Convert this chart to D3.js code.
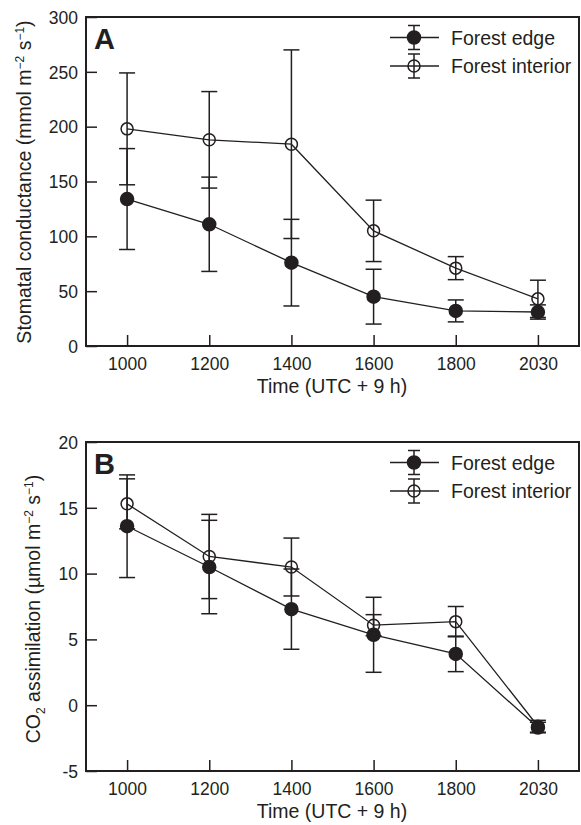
<!DOCTYPE html>
<html>
<head>
<meta charset="utf-8">
<script src="https://cdn.jsdelivr.net/npm/d3@7"></script>
<style>
  body { margin: 0; background: #fff; }
  svg { display: block; font-family: "Liberation Sans", Arial, sans-serif; }
</style>
</head>
<body>
<div id="chart"></div>
<script>
// categories on the x axis
var times = ['1000', '1200', '1400', '1600', '1800', '2030'];

// panel A - stomatal conductance
var gsEdge = [134, 111, 76, 45, 32, 31];
var gsEdgeErr = [46, 43, 39.5, 25, 10, 6.5];
var gsInterior = [198, 188, 184, 105, 71, 43];
var gsInteriorErr = [51, 44, 86, 28, 10.5, 17];
var gsTicks = [0, 50, 100, 150, 200, 250, 300];

// panel B - CO2 assimilation
var aEdge = [13.6, 10.5, 7.3, 5.35, 3.9, -1.7];
var aEdgeErr = [3.9, 3.55, 3.05, 2.85, 1.35, 0.4];
var aInterior = [15.3, 11.3, 10.5, 6.08, 6.35, -1.6];
var aInteriorErr = [1.9, 3.2, 2.2, 0.8, 1.15, 0.45];
var aTicks = [-5, 0, 5, 10, 15, 20];

var seriesNames = ['Forest edge', 'Forest interior'];

var ink = '#231f20';
var svg = d3.select('#chart').append('svg')
    .attr('width', 581)
    .attr('height', 825);

// shared x scale
var x = d3.scalePoint().domain(times).range([86, 579]).padding(0.5);

function drawPanel(p) {
    var y = d3.scaleLinear().domain(p.domain).range([p.bottom, p.top]);
    var g = svg.append('g');

    // frame
    g.append('rect')
        .attr('x', 86).attr('y', p.top)
        .attr('width', 579 - 86).attr('height', p.bottom - p.top)
        .attr('fill', 'none').attr('stroke', ink).attr('stroke-width', 2);

    // y axis, ticks inward (plain hyphen for negatives like the original)
    var yAxis = g.append('g')
        .attr('transform', 'translate(86,0)')
        .call(d3.axisRight(y).tickValues(p.ticks).tickSize(11).tickFormat(d => String(d)));
    yAxis.select('.domain').remove();
    yAxis.selectAll('line').attr('stroke', ink).attr('stroke-width', 1.5);
    yAxis.selectAll('text')
        .attr('x', -8).attr('dy', '0.36em')
        .attr('text-anchor', 'end')
        .attr('fill', ink).style('font-size', '17.5px');

    // x axis, ticks inward
    var xAxis = g.append('g')
        .attr('transform', `translate(0,${p.bottom})`)
        .call(d3.axisTop(x).tickSize(11));
    xAxis.select('.domain').remove();
    xAxis.selectAll('line').attr('stroke', ink).attr('stroke-width', 1.5);
    xAxis.selectAll('text')
        .attr('y', 24).attr('dy', 0)
        .attr('fill', ink).style('font-size', '17.5px');

    // x title
    g.append('text')
        .attr('x', 332).attr('y', p.bottom + 47)
        .attr('text-anchor', 'middle')
        .attr('fill', ink).style('font-size', '19.5px')
        .text('Time (UTC + 9 h)');

    // panel letter
    g.append('text')
        .attr('x', 94).attr('y', p.top + 32)
        .attr('fill', ink).style('font-size', '29px').style('font-weight', 'bold')
        .text(p.letter);

    var series = [
        { vals: p.edge, err: p.edgeErr, filled: true },
        { vals: p.interior, err: p.interiorErr, filled: false }
    ];

    // error bars
    series.forEach(s => {
        var eb = g.append('g').attr('stroke', ink).attr('stroke-width', 1.5);
        times.forEach((t, i) => {
            var cx = x(t);
            var hi = y(s.vals[i] + s.err[i]);
            var lo = y(s.vals[i] - s.err[i]);
            eb.append('line').attr('x1', cx).attr('x2', cx).attr('y1', hi).attr('y2', lo);
            eb.append('line').attr('x1', cx - 8).attr('x2', cx + 8).attr('y1', hi).attr('y2', hi);
            eb.append('line').attr('x1', cx - 8).attr('x2', cx + 8).attr('y1', lo).attr('y2', lo);
        });
    });

    // connecting lines
    var line = d3.line().x((d, i) => x(times[i])).y(d => y(d));
    series.forEach(s => {
        g.append('path')
            .attr('d', line(s.vals))
            .attr('fill', 'none').attr('stroke', ink).attr('stroke-width', 1.3);
    });

    // markers
    series.forEach(s => {
        g.selectAll(null)
            .data(s.vals)
            .enter()
            .append('circle')
            .attr('cx', (d, i) => x(times[i]))
            .attr('cy', d => y(d))
            .attr('r', s.filled ? 6.5 : 6)
            .attr('fill', s.filled ? ink : 'none')
            .attr('stroke', ink).attr('stroke-width', 1.5);
    });

    // legend
    seriesNames.forEach((name, i) => {
        var ly = p.top + 20.5 + i * 28.5;
        var lg = g.append('g').attr('stroke', ink).attr('stroke-width', 1.5);
        lg.append('line').attr('x1', 390).attr('x2', 439).attr('y1', ly).attr('y2', ly);
        lg.append('line').attr('x1', 414).attr('x2', 414).attr('y1', ly - 12).attr('y2', ly + 12);
        lg.append('line').attr('x1', 408).attr('x2', 420).attr('y1', ly - 12).attr('y2', ly - 12);
        lg.append('line').attr('x1', 408).attr('x2', 420).attr('y1', ly + 12).attr('y2', ly + 12);
        lg.append('circle').attr('cx', 414).attr('cy', ly)
            .attr('r', i === 0 ? 6.5 : 6)
            .attr('fill', i === 0 ? ink : 'none');
        g.append('text')
            .attr('x', 451).attr('y', ly).attr('dy', '0.36em')
            .attr('fill', ink).style('font-size', '19.5px')
            .text(name);
    });

    // y title
    var yt = g.append('text')
        .attr('transform', `translate(${p.titleX},${p.titleY}) rotate(-90)`)
        .attr('text-anchor', 'middle')
        .attr('fill', ink).style('font-size', '19.5px');
    p.yTitle(yt);
}

function unitTail(t) {
    t.append('tspan').text(' m');
    t.append('tspan').attr('dy', -7).style('font-size', '12px').text('\u22122');
    t.append('tspan').attr('dy', 7).text(' s');
    t.append('tspan').attr('dy', -7).style('font-size', '12px').text('\u22121');
    t.append('tspan').attr('dy', 7).text(')');
}

drawPanel({
    letter: 'A', top: 17, bottom: 346, domain: [0, 300], ticks: gsTicks,
    edge: gsEdge, edgeErr: gsEdgeErr, interior: gsInterior, interiorErr: gsInteriorErr,
    titleX: 31, titleY: 182,
    yTitle: t => {
        t.append('tspan').text('Stomatal conductance (mmol');
        unitTail(t);
    }
});

drawPanel({
    letter: 'B', top: 442, bottom: 771, domain: [-5, 20], ticks: aTicks,
    edge: aEdge, edgeErr: aEdgeErr, interior: aInterior, interiorErr: aInteriorErr,
    titleX: 40, titleY: 609,
    yTitle: t => {
        t.append('tspan').text('CO');
        t.append('tspan').attr('dy', 5).style('font-size', '12px').text('2');
        t.append('tspan').attr('dy', -5).text(' assimilation (\u00b5mol');
        unitTail(t);
    }
});
</script>
</body>
</html>
